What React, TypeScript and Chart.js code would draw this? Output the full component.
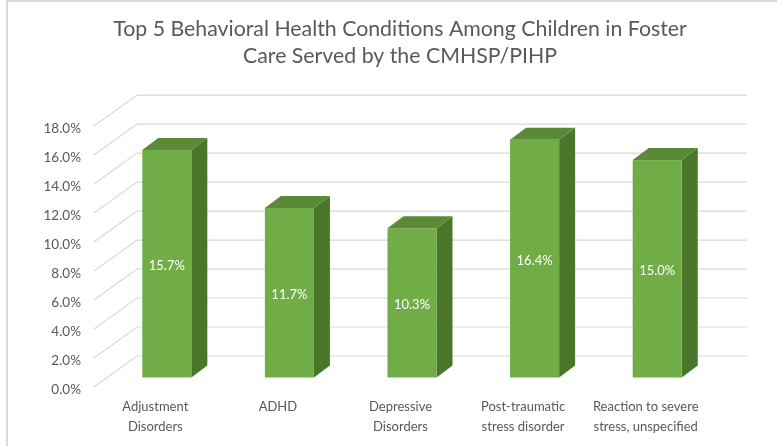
import React, { useEffect, useRef } from "react";
import { Chart, registerables } from "chart.js";

Chart.register(...registerables);

const categories: (string | string[])[] = [
  ["Adjustment", "Disorders"],
  "ADHD",
  ["Depressive", "Disorders"],
  ["Post-traumatic", "stress disorder"],
  ["Reaction to severe", "stress, unspecified"],
];
const values: number[] = [15.7, 11.7, 10.3, 16.4, 15.0];
const titleLines: string[] = [
  "Top 5 Behavioral Health Conditions Among Children in Foster",
  "Care Served by the CMHSP/PIHP",
];
const yMin = 0;
const yMax = 18;
const yStep = 2;

const FONT = "Lato, 'Open Sans', sans-serif";
const TEXT = "#595959";
const GRID = "#d9d9d9";
const FRONT = "#70AD47";
const TOP = "#5A8A37";
const SIDE = "#4A7629";

// perspective
const DEPTH_X = 43;
const DEPTH_Y = -31;
const BAR_OX = 11.5;
const BAR_OY = -9.5;
const BAR_DX = 16;
const BAR_DY = -12;

const threeD = {
  id: "threeD",
  beforeDraw(chart: any) {
    const ctx = chart.ctx;
    ctx.save();
    ctx.fillStyle = "#ffffff";
    ctx.fillRect(0, 0, chart.width, chart.height);
    ctx.strokeStyle = GRID;
    ctx.lineWidth = 2;
    ctx.beginPath();
    ctx.moveTo(7, chart.height + 5);
    ctx.lineTo(7, 1);
    ctx.lineTo(chart.width + 5, 1);
    ctx.stroke();
    ctx.restore();
  },
  beforeDatasetsDraw(chart: any) {
    const ctx = chart.ctx;
    const area = chart.chartArea;
    const ys = chart.scales.y;
    ctx.save();
    ctx.strokeStyle = GRID;
    ctx.lineWidth = 1.2;
    ys.ticks.forEach((t: any) => {
      const y = ys.getPixelForValue(t.value);
      ctx.beginPath();
      ctx.moveTo(area.left, y);
      ctx.lineTo(area.left + DEPTH_X, y + DEPTH_Y);
      ctx.lineTo(area.right + 40, y + DEPTH_Y);
      ctx.stroke();
    });
    const meta = chart.getDatasetMeta(0);
    meta.data.forEach((bar: any) => {
      const p = bar.getProps(["x", "y", "base", "width"], true);
      const L = p.x - p.width / 2 + BAR_OX;
      const R = p.x + p.width / 2 + BAR_OX;
      const T = p.y + BAR_OY;
      const B = p.base + BAR_OY;
      // side
      ctx.fillStyle = SIDE;
      ctx.beginPath();
      ctx.moveTo(R, T);
      ctx.lineTo(R + BAR_DX, T + BAR_DY);
      ctx.lineTo(R + BAR_DX, B + BAR_DY);
      ctx.lineTo(R, B);
      ctx.closePath();
      ctx.fill();
      // top
      ctx.fillStyle = TOP;
      ctx.beginPath();
      ctx.moveTo(L, T);
      ctx.lineTo(R, T);
      ctx.lineTo(R + BAR_DX, T + BAR_DY);
      ctx.lineTo(L + BAR_DX, T + BAR_DY);
      ctx.closePath();
      ctx.fill();
      // front
      ctx.fillStyle = FRONT;
      ctx.fillRect(L, T, R - L, B - T);
    });
    ctx.restore();
  },
  afterDatasetsDraw(chart: any) {
    const ctx = chart.ctx;
    const meta = chart.getDatasetMeta(0);
    ctx.save();
    ctx.fillStyle = "#ffffff";
    ctx.font = `13px ${FONT}`;
    ctx.textAlign = "center";
    ctx.textBaseline = "middle";
    meta.data.forEach((bar: any, i: number) => {
      const p = bar.getProps(["x", "y", "base"], true);
      const cx = p.x + BAR_OX;
      const cy = (p.y + p.base) / 2 + BAR_OY + 2;
      ctx.fillText(values[i].toFixed(1) + "%", cx, cy);
    });
    ctx.restore();
  },
};

export default function App() {
  const ref = useRef<HTMLCanvasElement | null>(null);
  useEffect(() => {
    document.body.style.margin = "0";
    if (!ref.current) return;
    const chart = new Chart(ref.current, {
      type: "bar",
      data: {
        labels: categories,
        datasets: [
          {
            data: values,
            backgroundColor: "rgba(0,0,0,0)",
            borderWidth: 0,
            barPercentage: 0.4,
            categoryPercentage: 1,
          },
        ],
      },
      options: {
        responsive: false,
        animation: false,
        layout: { padding: { left: 23, right: 0, top: 0, bottom: 0 } },
        plugins: {
          legend: { display: false },
          tooltip: { enabled: false },
          title: {
            display: true,
            text: titleLines,
            color: TEXT,
            font: { family: FONT, size: 21.3, weight: "400", lineHeight: 1.27 },
            padding: { top: 16, bottom: 56 },
          },
        },
        scales: {
          x: {
            offset: true,
            grid: { display: false, drawTicks: false },
            border: { display: false },
            ticks: {
              color: TEXT,
              font: { family: FONT, size: 13, lineHeight: 1.54 },
              padding: 10,
              maxRotation: 0,
              autoSkip: false,
            },
            afterFit(scale: any) {
              scale.height = 59;
            },
          },
          y: {
            min: yMin,
            max: yMax,
            grid: { display: false, drawTicks: false },
            border: { display: false },
            ticks: {
              stepSize: yStep,
              color: TEXT,
              font: { family: FONT, size: 13.5 },
              padding: 13,
              labelOffset: 3,
              callback: (v: any) => Number(v).toFixed(1) + "%",
            },
            afterFit(scale: any) {
              scale.width = 71;
            },
          },
          y2: {
            position: "right",
            display: true,
            grid: { display: false, drawTicks: false },
            border: { display: false },
            ticks: { display: false },
            afterFit(scale: any) {
              scale.width = 70;
            },
          },
        },
      },
      plugins: [threeD],
    });
    return () => chart.destroy();
  }, []);
  return (
    <canvas
      ref={ref}
      width={777}
      height={446}
      style={{ width: 777, height: 446, display: "block" }}
    />
  );
}
